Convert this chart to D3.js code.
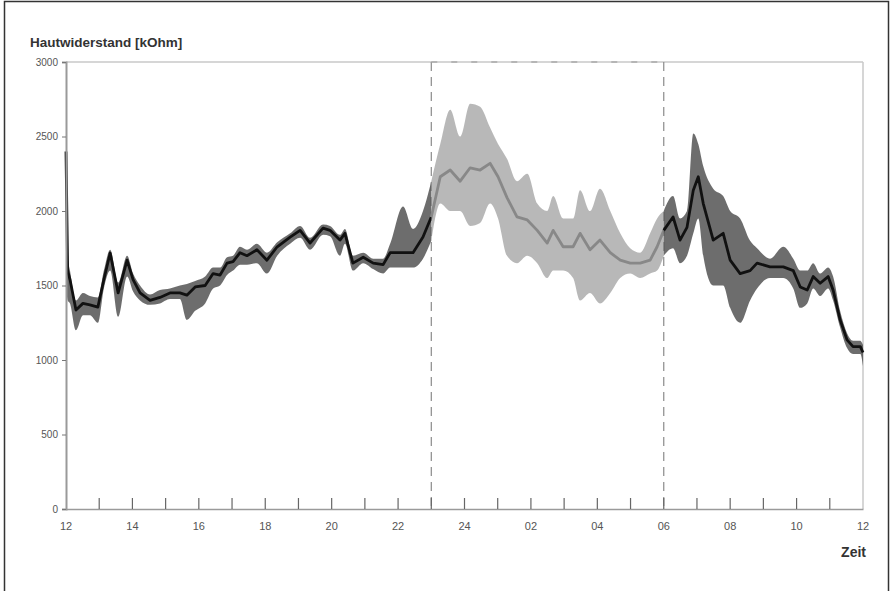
<!DOCTYPE html>
<html>
<head>
<meta charset="utf-8">
<script src="https://cdn.jsdelivr.net/npm/d3@7"></script>
<style>
  body { margin: 0; background: #fff; }
  svg { display: block; font-family: Arial, "Liberation Sans", sans-serif; }
</style>
</head>
<body>
<div id="chart"></div>
<script>
// hours counted on from 12:00 (24 = midnight, 36 = noon next day)
var times = [12.00, 12.05, 12.12, 12.30, 12.51, 12.72, 12.96, 13.14, 13.33, 13.57, 13.84, 14.02, 14.23, 14.53, 14.83, 15.13, 15.43, 15.64, 15.89, 16.19, 16.43, 16.64, 16.85, 17.03, 17.24, 17.45, 17.75, 18.05, 18.36, 18.75, 19.05, 19.35, 19.74, 19.95, 20.25, 20.40, 20.64, 20.95, 21.25, 21.55, 21.76, 22.15, 22.45, 22.75, 23.00,
  23.27, 23.57, 23.87, 24.17, 24.47, 24.77, 25.01, 25.28, 25.58, 25.89, 26.19, 26.49, 26.67, 26.97, 27.27, 27.48, 27.78, 28.08, 28.39, 28.69, 28.99, 29.29, 29.59, 29.80, 30.00,
  30.28, 30.49, 30.70, 30.89, 31.04, 31.19, 31.49, 31.79, 32.00, 32.30, 32.60, 32.81, 33.20, 33.60, 33.90, 34.11, 34.32, 34.50, 34.71, 34.95, 35.10, 35.31, 35.52, 35.70, 35.92, 36.00];

// mean skin resistance (kOhm)
var mid = [2400, 1600, 1540, 1335, 1380, 1370, 1355, 1540, 1718, 1450, 1670, 1540, 1450, 1400, 1420, 1450, 1450, 1435, 1490, 1500, 1580, 1570, 1650, 1660, 1720, 1700, 1740, 1670, 1760, 1825, 1870, 1785, 1885, 1870, 1805, 1850, 1650, 1690, 1650, 1640, 1720, 1720, 1720, 1825, 1960,
  2230, 2275, 2200, 2290, 2275, 2320, 2230, 2090, 1960, 1940, 1870, 1785, 1870, 1760, 1760, 1850, 1740, 1805, 1720, 1670, 1650, 1650, 1670, 1760, 1870,
  1960, 1805, 1890, 2140, 2230, 2050, 1805, 1850, 1670, 1580, 1600, 1650, 1625, 1625, 1600, 1490, 1470, 1560, 1515, 1560, 1470, 1270, 1135, 1090, 1090, 1050];

// lower / upper edge of the fluctuation
var lo = [1500, 1400, 1380, 1200, 1300, 1300, 1250, 1480, 1600, 1290, 1560, 1460, 1400, 1370, 1380, 1410, 1410, 1270, 1330, 1380, 1480, 1500, 1570, 1600, 1640, 1640, 1650, 1580, 1700, 1780, 1820, 1740, 1840, 1830, 1700, 1780, 1600, 1650, 1610, 1580, 1620, 1620, 1620, 1680, 1800,
  2050, 2000, 2000, 1900, 1920, 2050, 1950, 1700, 1650, 1700, 1650, 1550, 1600, 1600, 1550, 1400, 1450, 1380, 1450, 1550, 1580, 1550, 1580, 1600, 1700,
  1750, 1650, 1700, 1850, 1950, 1700, 1500, 1500, 1350, 1250, 1400, 1480, 1550, 1550, 1480, 1350, 1380, 1480, 1430, 1480, 1400, 1220, 1080, 1040, 1040, 960];

var hi = [2420, 1700, 1600, 1400, 1450, 1430, 1420, 1600, 1740, 1520, 1700, 1580, 1500, 1440, 1470, 1480, 1500, 1510, 1530, 1560, 1620, 1620, 1690, 1700, 1760, 1740, 1780, 1720, 1790, 1850, 1900, 1820, 1910, 1900, 1840, 1880, 1700, 1720, 1680, 1680, 1780, 2030, 1880, 2000, 2200,
  2450, 2680, 2500, 2720, 2700, 2560, 2450, 2350, 2200, 2250, 2050, 2000, 2100, 1950, 1950, 2140, 2000, 2150, 2000, 1850, 1750, 1720, 1850, 1950, 2000,
  2100, 1950, 2000, 2520, 2450, 2300, 2150, 2100, 2000, 1950, 1800, 1750, 1680, 1760, 1680, 1600, 1600, 1650, 1580, 1620, 1560, 1330, 1180, 1130, 1130, 1100];

var nightStart = 23, nightEnd = 30;
var yTicks = [0, 500, 1000, 1500, 2000, 2500, 3000];
var xLabels = [12, 14, 16, 18, 20, 22, 24, 26, 28, 30, 32, 34, 36];

var W = 893, H = 591;
var margin = {top: 62, right: 30, bottom: 82, left: 66};
var width = W - margin.left - margin.right;
var height = H - margin.top - margin.bottom;

var svg = d3.select("#chart").append("svg")
  .attr("width", W)
  .attr("height", H);

// picture frame
svg.append("rect")
  .attr("x", 4.5).attr("y", 1.5)
  .attr("width", 884).attr("height", 620)
  .attr("fill", "none")
  .attr("stroke", "#333")
  .attr("stroke-width", 1.5);

var g = svg.append("g")
  .attr("transform", `translate(${margin.left}, ${margin.top})`);

var x = d3.scaleLinear().domain([12, 36]).range([0, width]);
var y = d3.scaleLinear().domain([0, 3000]).range([height, 0]);

var data = times.map((t, i) => ({t: t, v: mid[i], lo: lo[i], hi: hi[i]}));
var day1 = data.filter(d => d.t <= nightStart);
var night = data.filter(d => d.t >= nightStart && d.t <= nightEnd);
var day2 = data.filter(d => d.t >= nightEnd);

// top and right plot border
g.append("line").attr("x1", 0).attr("x2", width).attr("y1", 0).attr("y2", 0)
  .attr("stroke", "#c8c8c8").attr("stroke-width", 1.5);
g.append("line").attr("x1", width).attr("x2", width).attr("y1", 0).attr("y2", height)
  .attr("stroke", "#c8c8c8").attr("stroke-width", 1.5);

// night markers
[nightStart, nightEnd].forEach(function(t) {
  g.append("line")
    .attr("x1", x(t)).attr("x2", x(t))
    .attr("y1", 0).attr("y2", height)
    .attr("stroke", "#8a8a8a")
    .attr("stroke-width", 1.2)
    .attr("stroke-dasharray", "9,6");
});
g.append("line")
  .attr("x1", x(nightStart)).attr("x2", x(nightEnd))
  .attr("y1", 0).attr("y2", 0)
  .attr("stroke", "#aaa")
  .attr("stroke-width", 1.5)
  .attr("stroke-dasharray", "6,14");

var band = d3.area()
  .x(d => x(d.t))
  .y0(d => y(d.lo))
  .y1(d => y(d.hi))
  .curve(d3.curveMonotoneX);

var line = d3.line()
  .x(d => x(d.t))
  .y(d => y(d.v));

function drawPart(part, bandColor, bandOpacity, lineColor) {
  g.append("path")
    .datum(part)
    .attr("d", band)
    .attr("fill", bandColor)
    .attr("fill-opacity", bandOpacity);
  g.append("path")
    .datum(part)
    .attr("d", line)
    .attr("fill", "none")
    .attr("stroke", lineColor)
    .attr("stroke-width", 2.8)
    .attr("stroke-linejoin", "round");
}

drawPart(day1, "#3c3c3c", 0.75, "#111");
drawPart(night, "#9a9a9a", 0.7, "#888");
drawPart(day2, "#3c3c3c", 0.75, "#111");

// y axis
var yAxis = d3.axisLeft(y).tickValues(yTicks).tickFormat(d3.format("d")).tickSize(4).tickPadding(4);
var yG = g.append("g").call(yAxis);
yG.select(".domain").attr("stroke", "#9a9a9a").attr("stroke-width", 2);
yG.selectAll(".tick line").attr("stroke", "#777");
yG.selectAll("text").attr("fill", "#555").style("font-size", "10px");

// x axis, hourly ticks pointing up
var xAxis = d3.axisBottom(x).ticks(24).tickSize(0).tickFormat("");
var xG = g.append("g").attr("transform", `translate(0, ${height})`).call(xAxis);
xG.select(".domain").attr("stroke", "#9a9a9a").attr("stroke-width", 1.5);

g.selectAll(".hour")
  .data(d3.range(13, 36))
  .enter().append("line")
  .attr("class", "hour")
  .attr("x1", d => x(d)).attr("x2", d => x(d))
  .attr("y1", height).attr("y2", height - 11)
  .attr("stroke", "#666")
  .attr("stroke-width", 1.2);

g.selectAll(".xlab")
  .data(xLabels)
  .enter().append("text")
  .attr("class", "xlab")
  .attr("x", d => x(d))
  .attr("y", height + 21)
  .attr("text-anchor", "middle")
  .attr("fill", "#555")
  .style("font-size", "11px")
  .text(d => d === 24 ? "24" : d3.format("02")(d % 24));

// titles
svg.append("text")
  .attr("x", 30).attr("y", 47)
  .attr("fill", "#333")
  .style("font-size", "13.5px")
  .style("font-weight", "bold")
  .text("Hautwiderstand [kOhm]");

svg.append("text")
  .attr("x", 866).attr("y", 557)
  .attr("text-anchor", "end")
  .attr("fill", "#333")
  .style("font-size", "14px")
  .style("font-weight", "bold")
  .text("Zeit");
</script>
</body>
</html>
